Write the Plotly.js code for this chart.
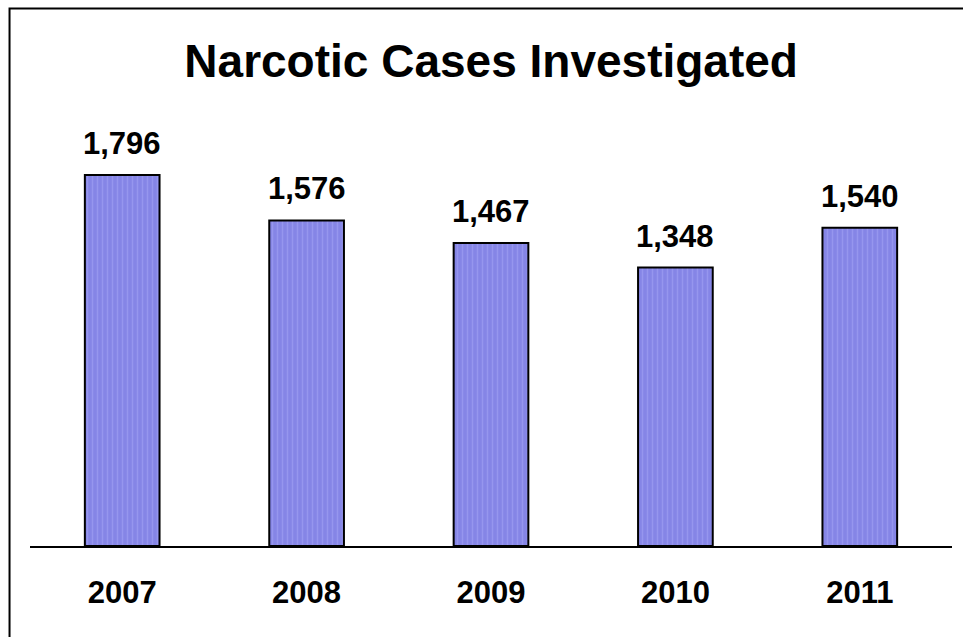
<!DOCTYPE html>
<html>
<head>
<meta charset="utf-8">
<script src="https://cdn.plot.ly/plotly-3.0.1.min.js"></script>
<style>html,body{margin:0;padding:0;background:#fff;}#chart{width:963px;height:637px;}</style>
</head>
<body>
<div id="chart"></div>
<script>
const years = ['2007', '2008', '2009', '2010', '2011'];
const cases = [1796, 1576, 1467, 1348, 1540];
const valueLabels = ['1,796', '1,576', '1,467', '1,348', '1,540'];
const chartTitle = 'Narcotic Cases Investigated';

const font = 'Arial, "Liberation Sans", sans-serif';

const trace = {
  type: 'bar',
  x: years,
  y: cases,
  width: 0.405,
  marker: {
    color: '#8585E6',
    line: {color: '#000000', width: 2},
    pattern: {shape: '|', bgcolor: '#8585E6', fgcolor: '#9696EE', size: 5, solidity: 0.3, fillmode: 'replace'}
  },
  hoverinfo: 'none'
};

// category index positions so numeric-looking year strings are not read as coordinates
const annotations = years.map((yr, i) => ({
  x: i, y: cases[i], xref: 'x', yref: 'y',
  text: '<b>' + valueLabels[i] + '</b>',
  showarrow: false, yanchor: 'bottom', yshift: 12,
  font: {family: font, size: 31, color: '#000'}
}));

const layout = {
  width: 963, height: 637,
  margin: {l: 30, r: 11, t: 100, b: 91},
  paper_bgcolor: '#fff', plot_bgcolor: '#fff',
  showlegend: false,
  title: {
    text: '<b>' + chartTitle + '</b>',
    font: {family: font, size: 46, color: '#000'},
    x: 0.51, xanchor: 'center', y: 0.905, yanchor: 'middle'
  },
  xaxis: {
    type: 'category', range: [-0.5, 4.5],
    showline: true, linecolor: '#000', linewidth: 2,
    showgrid: false, zeroline: false, ticks: '',
    ticklabelstandoff: 18,
    tickfont: {family: font, size: 31, color: '#000', weight: 'bold'},
    fixedrange: true
  },
  yaxis: {
    range: [0, 2159], visible: true, showline: false, showticklabels: false, ticks: '',
    showgrid: false, zeroline: false, fixedrange: true
  },
  annotations: annotations,
  shapes: [{
    type: 'path', xref: 'paper', yref: 'paper',
    path: 'M -0.0222,-0.21 L -0.0222,1.2051 L 1.02,1.2051',
    line: {color: '#000', width: 2}
  }]
};

Plotly.newPlot('chart', [trace], layout, {displayModeBar: false, staticPlot: true});
</script>
</body>
</html>
